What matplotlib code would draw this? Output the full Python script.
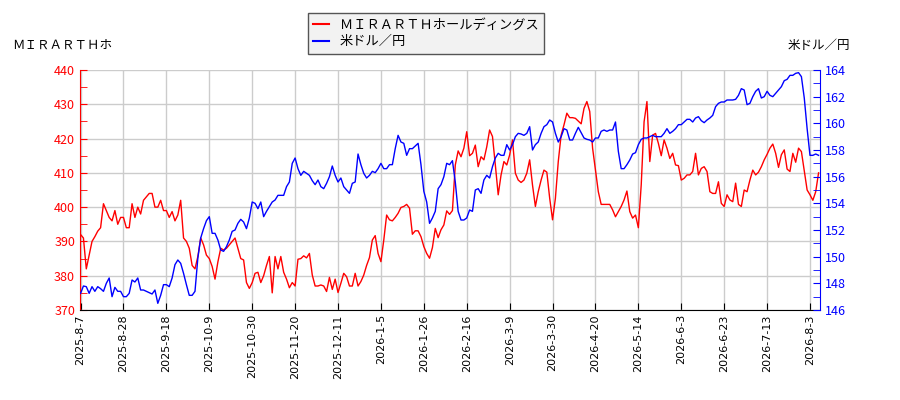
import matplotlib
matplotlib.use("Agg")
import matplotlib.pyplot as plt
from matplotlib.ticker import MultipleLocator

plt.rcParams['font.family'] = ['Noto Sans CJK JP', 'DejaVu Sans']

# stock price (left axis) and USD/JPY (right axis), one value per trading day
stock = [392, 391, 382, 386, 390, 391.4, 393, 394, 401, 399,
         397, 396, 399, 395, 397, 397, 394, 394, 401, 397,
         400, 398, 402, 403, 404, 404, 400, 400, 402, 399,
         399, 397, 398.7, 396, 397.7, 402, 391, 390, 388, 383,
         382, 385.6, 391, 389, 386, 385, 382.7, 379, 384, 388,
         387.5, 388, 389, 390, 391, 388, 385, 384.6, 378, 376.3,
         378, 380.7, 381, 378, 380, 383, 385.6, 375, 385.6, 382,
         385.6, 381, 379, 376.5, 378, 377, 384.8, 385, 385.8, 385.2,
         386.5, 380.2, 377, 377, 377.3, 377, 375.4, 379.5, 376, 379,
         375.1, 377.8, 380.7, 379.7, 377, 377, 380.7, 377, 378.3, 380.2,
         383, 385.3, 390.4, 391.7, 386.5, 384.1, 390.4, 397.7, 396.3, 396,
         397, 398.2, 399.9, 400.2, 400.8, 399.7, 392.1, 393.1, 393.1, 391.4,
         388.5, 386.5, 385.1, 388.2, 393.8, 391.1, 393.4, 394.8, 398.9, 397.9,
         399, 412.3, 416.4, 414.7, 417.2, 422, 415, 415.7, 418.1, 411.8,
         414.7, 413.8, 417.6, 422.5, 420.6, 412.3, 403.6, 409.4, 413.3, 412.3,
         415.2, 419.6, 409.9, 407.9, 407.2, 407.9, 409.9, 413.8, 406.4, 400.2,
         404.5, 407.9, 410.8, 410.2, 402.6, 396.3, 402.6, 413.3, 421, 424,
         427.4, 426.1, 426.1, 425.9, 425.1, 424.3, 428.8, 430.8, 427.9, 417.2,
         410.8, 404.5, 400.8, 400.8, 400.8, 400.8, 399.2, 397.2, 398.7, 400.2,
         402.1, 404.7, 398.7, 396.8, 397.7, 394, 406.5, 424.9, 430.8, 413.3,
         421, 421.5, 418.6, 415, 419.6, 417.2, 414.2, 415.7, 412.3, 412.1,
         407.9, 408.4, 409.4, 409.4, 410.4, 415.7, 409.4, 411.3, 411.8, 410.4,
         404.5, 404, 404, 407.4, 401.1, 400.2, 403.6, 402.1, 401.6, 407,
         400.8, 400.2, 405, 404.5, 407.9, 410.8, 409.4, 410.2, 411.8, 413.8,
         415.4, 417.2, 418.4, 415.7, 411.6, 415.3, 416.7, 411.1, 410.4, 415.7,
         413.1, 417.2, 416.2, 410.6, 405, 403.6, 402, 404.5, 410]

usdjpy = [147.25, 147.8, 147.75, 147.25, 147.75, 147.4, 147.75, 147.6, 147.4, 148,
          148.4, 147, 147.7, 147.4, 147.4, 147, 147, 147.25, 148.25, 148.1,
          148.4, 147.5, 147.5, 147.4, 147.3, 147.2, 147.5, 146.5, 147.1, 147.9,
          147.9, 147.75, 148.4, 149.4, 149.75, 149.5, 148.75, 147.9, 147.1, 147.1,
          147.4, 149.9, 151.4, 152.1, 152.7, 153, 151.75, 151.75, 151.25, 150.5,
          150.4, 150.75, 151.25, 151.9, 152, 152.5, 152.8, 152.6, 152.1, 152.9,
          154.1, 154, 153.6, 154.1, 153, 153.4, 153.75, 154.1, 154.25, 154.6,
          154.6, 154.6, 155.25, 155.6, 157, 157.4, 156.6, 156.1, 156.4, 156.25,
          156.1, 155.7, 155.4, 155.75, 155.25, 155.1, 155.5, 156, 156.8, 156.1,
          155.6, 155.9, 155.25, 155, 154.75, 155.5, 155.6, 157.7, 156.9, 156.25,
          155.9, 156.1, 156.4, 156.3, 156.6, 157, 156.6, 156.6, 156.9, 156.9,
          158.1, 159.1, 158.6, 158.5, 157.6, 158.1, 158.1, 158.3, 158.5, 156.9,
          154.9, 154.1, 152.5, 152.9, 153.4, 155.1, 155.4, 156, 157, 156.9,
          157.2, 155.6, 153.4, 152.75, 152.75, 152.9, 153.5, 153.4, 155, 155.1,
          154.75, 155.75, 156.1, 155.9, 156.75, 157.4, 157.75, 157.6, 157.6, 158.4,
          158, 158.4, 159, 159.25, 159.2, 159.1, 159.25, 159.75, 158, 158.4,
          158.6, 159.25, 159.75, 159.9, 160.25, 160.1, 159.25, 158.6, 159, 159.6,
          159.5, 158.75, 158.75, 159.25, 159.7, 159.3, 158.9, 158.8, 158.75, 158.6,
          158.9, 158.9, 159.4, 159.5, 159.4, 159.5, 159.5, 160.1, 157.9, 156.6,
          156.6, 156.9, 157.25, 157.7, 157.8, 158.4, 158.8, 158.9, 158.9, 159,
          159.1, 159, 159, 159, 159.25, 159.6, 159.25, 159.4, 159.6, 159.9,
          159.9, 160.1, 160.3, 160.3, 160.1, 160.4, 160.5, 160.2, 160.05, 160.25,
          160.4, 160.6, 161.25, 161.5, 161.6, 161.6, 161.75, 161.75, 161.75, 161.8,
          162.1, 162.6, 162.5, 161.4, 161.5, 162, 162.4, 162.6, 161.9, 162,
          162.4, 162.1, 162, 162.25, 162.5, 162.75, 163.2, 163.3, 163.6, 163.6,
          163.75, 163.8, 163.5, 161.9, 159.6, 157.6, 157.6, 157.7, 157.6]

# one label every 15 trading days
date_labels = ['2025-8-7', '2025-8-28', '2025-9-18', '2025-10-9', '2025-10-30',
               '2025-11-20', '2025-12-11', '2026-1-5', '2026-1-26', '2026-2-16',
               '2026-3-9', '2026-3-30', '2026-4-20', '2026-5-14', '2026-6-3',
               '2026-6-23', '2026-7-13', '2026-8-3']

stock_name = 'ＭＩＲＡＲＴＨホールディングス'
fx_name = '米ドル／円'

x = list(range(len(stock)))
tick_pos = [i * 15 for i in range(len(date_labels))]

fig = plt.figure(figsize=(9, 4), dpi=100)
ax = fig.add_axes([80 / 900, 90 / 400, 740 / 900, 240 / 400])
ax2 = ax.twinx()

l1, = ax.plot(x, stock, color='#ff0000', lw=1)
l2, = ax2.plot(x, usdjpy, color='#0000ff', lw=1)

ax.set_xlim(-0.2, len(stock) - 0.5)
ax.set_ylim(370, 440)
ax2.set_ylim(146, 164)

ax.set_xticks(tick_pos)
ax.set_xticklabels(date_labels, rotation=90, fontsize=8, family='DejaVu Sans')
ax.yaxis.set_major_locator(MultipleLocator(10))
ax.yaxis.set_minor_locator(MultipleLocator(5))
ax2.yaxis.set_major_locator(MultipleLocator(2))
ax2.yaxis.set_minor_locator(MultipleLocator(1))

ax.grid(True, color='#cccccc', lw=1)
ax.set_axisbelow(True)

ax.tick_params(axis='x', direction='in', length=5, color='black', pad=3)
ax.tick_params(axis='y', which='both', direction='in', length=5, colors='red', labelsize=9)
ax2.tick_params(axis='y', which='both', direction='in', length=5, colors='blue', labelsize=9)

for a in (ax, ax2):
    a.spines['top'].set_visible(False)
ax.spines['left'].set_color('red')
ax.spines['right'].set_visible(False)
ax2.spines['right'].set_color('blue')
ax2.spines['left'].set_visible(False)
ax2.spines['bottom'].set_visible(False)

fig.text(12 / 900, 1 - 45 / 400, 'ＭＩＲＡＲＴＨホ', fontsize=9, va='center', ha='left')
fig.text(850 / 900, 1 - 45 / 400, fx_name, fontsize=9, va='center', ha='right')

leg = fig.legend([l1, l2], [stock_name, fx_name], loc='upper left',
                 bbox_to_anchor=(308 / 900, 1 - 13 / 400), borderaxespad=0,
                 fontsize=9.5, fancybox=False, edgecolor='#555555',
                 facecolor='#f2f2f2', framealpha=1, handlelength=1.2,
                 borderpad=0.4, labelspacing=0.3)
for line in leg.get_lines():
    line.set_linewidth(1.5)

fig.savefig('out.png', dpi=100)
